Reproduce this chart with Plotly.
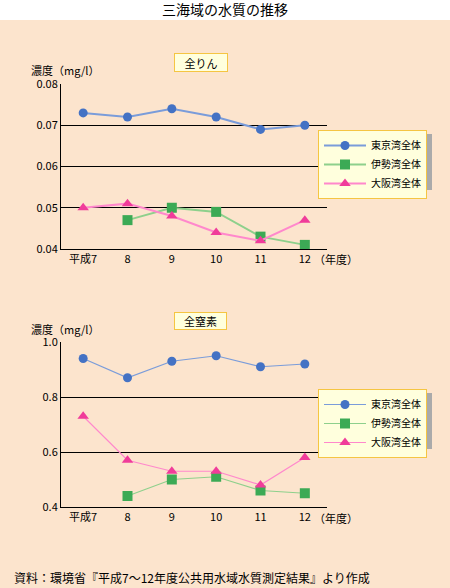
import plotly.graph_objects as go

years = ["平成7", "8", "9", "10", "11", "12"]
series_names = ["東京湾全体", "伊勢湾全体", "大阪湾全体"]

p_tokyo = [0.073, 0.072, 0.074, 0.072, 0.069, 0.070]
p_ise = [None, 0.047, 0.050, 0.049, 0.043, 0.041]
p_osaka = [0.050, 0.051, 0.048, 0.044, 0.042, 0.047]

n_tokyo = [0.94, 0.87, 0.93, 0.95, 0.91, 0.92]
n_ise = [None, 0.44, 0.50, 0.51, 0.46, 0.45]
n_osaka = [0.73, 0.57, 0.53, 0.53, 0.48, 0.58]

W, H = 450, 588
BG = "#FCE4CD"
FONT = "Noto Sans CJK JP"

line_colors = ["#7A9CDA", "#8ED08C", "#FF88CC"]
marker_colors = ["#4472C4", "#3CAA55", "#F03C9A"]
symbols = ["circle", "square", "triangle-up"]
msizes = [9, 10, 10]

def py(px):
    return 1 - px / H

def pxx(px):
    return px / W

fig = go.Figure()

panels = [
    ([p_tokyo, p_ise, p_osaka], "x", "y", "legend", 2),
    ([n_tokyo, n_ise, n_osaka], "x2", "y2", "legend2", 1.2),
]
for data, xa, ya, leg, lw in panels:
    for i, vals in enumerate(data):
        fig.add_trace(go.Scatter(
            x=years, y=vals, xaxis=xa, yaxis=ya, name=series_names[i],
            mode="lines+markers", legend=leg,
            line=dict(color=line_colors[i], width=lw),
            marker=dict(color=marker_colors[i], symbol=symbols[i], size=msizes[i]),
            connectgaps=False,
        ))

axis_common = dict(
    showline=True, linecolor="black", linewidth=1, ticks="", automargin=False,
    tickfont=dict(family=FONT, size=11, color="black"),
)
xd = [pxx(61), pxx(327)]
leg_common = dict(xanchor="left", yanchor="top",
                  bgcolor="#FFFFDD", bordercolor="#F5C542", borderwidth=1,
                  font=dict(family=FONT, size=10, color="black"),
                  itemwidth=42, tracegroupgap=0)
fig.update_layout(
    width=W, height=H,
    margin=dict(l=0, r=0, t=0, b=0, pad=0, autoexpand=False),
    paper_bgcolor=BG, plot_bgcolor="rgba(0,0,0,0)",
    font=dict(family=FONT, size=11, color="black"),
    xaxis=dict(domain=xd, anchor="y", range=[-0.5, 5.5], type="category",
               showgrid=False, **axis_common),
    yaxis=dict(domain=[py(249), py(84)], anchor="x", range=[0.04, 0.08],
               dtick=0.01, tickformat=".2f", showgrid=True, gridcolor="black",
               gridwidth=1, zeroline=False, **axis_common),
    xaxis2=dict(domain=xd, anchor="y2", range=[-0.5, 5.5], type="category",
                showgrid=False, **axis_common),
    yaxis2=dict(domain=[py(507), py(342)], anchor="x2", range=[0.4, 1.0],
                dtick=0.2, tickformat=".1f", showgrid=True, gridcolor="black",
                gridwidth=1, zeroline=False, **axis_common),
    legend=dict(x=pxx(318), y=py(130), **leg_common),
    legend2=dict(x=pxx(318), y=py(389), **leg_common),
    showlegend=True,
)

shapes = [
    # white title band
    dict(type="rect", xref="paper", yref="paper", x0=0, x1=1, y0=py(20), y1=1,
         fillcolor="white", line=dict(width=0), layer="below"),
    # legend shadows
    dict(type="rect", xref="paper", yref="paper", x0=pxx(322), x1=pxx(432),
         y0=py(190), y1=py(134), fillcolor="#AAAAAA", line=dict(width=0), layer="above"),
    dict(type="rect", xref="paper", yref="paper", x0=pxx(322), x1=pxx(432),
         y0=py(449), y1=py(393), fillcolor="#AAAAAA", line=dict(width=0), layer="above"),
]
fig.update_layout(shapes=shapes)

ann = [
    dict(text="三海域の水質の推移", x=pxx(225), y=py(9), xanchor="center", yanchor="middle",
         font=dict(size=14)),
    dict(text="全りん", x=pxx(201), y=py(62), xanchor="center", yanchor="middle",
         bgcolor="#FFFFDD", bordercolor="#F5C542", borderwidth=1, width=50, height=15),
    dict(text="全窒素", x=pxx(200.5), y=py(321), xanchor="center", yanchor="middle",
         bgcolor="#FFFFDD", bordercolor="#F5C542", borderwidth=1, width=49, height=14),
    dict(text="濃度（mg/l）", x=pxx(29), y=py(70), xanchor="left", yanchor="middle"),
    dict(text="濃度（mg/l）", x=pxx(29), y=py(329), xanchor="left", yanchor="middle"),
    dict(text="（年度）", x=pxx(312), y=py(259), xanchor="left", yanchor="middle"),
    dict(text="（年度）", x=pxx(312), y=py(518), xanchor="left", yanchor="middle"),
    dict(text="資料：環境省『平成7～12年度公共用水域水質測定結果』より作成",
         x=pxx(12), y=py(577), xanchor="left", yanchor="middle", font=dict(size=12)),
]
for a in ann:
    a.setdefault("xref", "paper")
    a.setdefault("yref", "paper")
    a.setdefault("showarrow", False)
    a.setdefault("font", dict(size=11))
    a["font"] = dict(family=FONT, color="black", **a["font"])
fig.update_layout(annotations=ann)

fig.write_html(
    "out.html",
    config={"displayModeBar": False},
    post_script=(
        "document.documentElement.style.margin='0';"
        "document.body.style.margin='0';"
        "document.body.style.overflow='hidden';"
        "document.documentElement.style.background='" + BG + "';"
    ),
)
